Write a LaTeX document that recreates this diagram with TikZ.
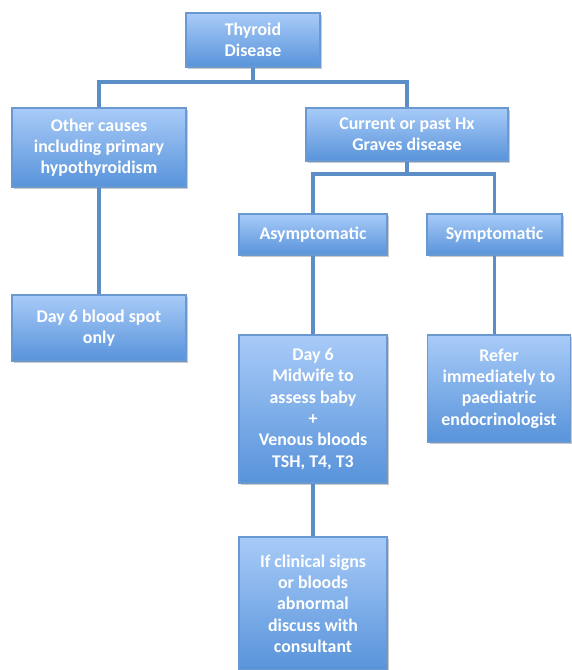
\documentclass[tikz,border=0pt]{standalone}
\usepackage{fontspec}
\setmainfont{Carlito}
\usepackage{xcolor}
\usepackage{tikz}
\usetikzlibrary{shadows, calc}
\definecolor{boxtop}{HTML}{A8CBF8}
\definecolor{boxbot}{HTML}{5893DA}
\definecolor{boxline}{HTML}{6A98D0}
\definecolor{linkcol}{HTML}{5B8EC6}
\tikzset{
	flowbox/.style={draw=boxline, line width=1pt, top color=boxtop, bottom color=boxbot, text=white,
		align=center, inner sep=2pt, font=\fontsize{13.4}{16}\selectfont\bfseries,
		drop shadow={shadow xshift=1.5pt, shadow yshift=-1.5pt, opacity=0.35, fill=black!60}},
	link/.style={draw=linkcol, line width=2.4pt},
}

\begin{document}
\begin{tikzpicture}[x=0.75pt, y=-0.75pt]
	\useasboundingbox (0,0) rectangle (571,670);

	% Top level
	\node[flowbox, minimum width=100.5pt, minimum height=40.5pt] (thyroid) at (253,40) {Thyroid\\Disease};

	% Second level
	\node[flowbox, minimum width=130.5pt, minimum height=59.25pt] (other) at (99,147.5) {Other causes\\including primary\\hypothyroidism};
	\node[flowbox, minimum width=151.5pt, minimum height=39.75pt] (graves) at (407,134.5) {Current or past Hx\\Graves disease};

	% Third level
	\node[flowbox, minimum width=111pt, minimum height=30.75pt] (asympt) at (313,234.5) {Asymptomatic};
	\node[flowbox, minimum width=101.25pt, minimum height=30.75pt] (sympt) at (494.5,234.5) {Symptomatic};

	% Actions
	\node[flowbox, minimum width=130.5pt, minimum height=49.5pt] (spot) at (99,328) {Day 6 blood spot\\only};
	\node[flowbox, minimum width=111pt, minimum height=111pt] (midwife) at (313,409) {Day 6\\Midwife to\\assess baby\\+\\Venous bloods\\TSH, T4, T3};
	\node[flowbox, minimum width=107.25pt, minimum height=80.25pt] (refer) at (499,388.5) {Refer\\immediately to\\paediatric\\endocrinologist};
	\node[flowbox, minimum width=111pt, minimum height=99.75pt] (consult) at (313,603.5) {If clinical signs\\or bloods\\abnormal\\discuss with\\consultant};

	% Connectors
	\coordinate (bus1) at (253,82);
	\coordinate (bus2) at (407,174);
	\draw[link] (thyroid.south) -- (bus1) -| (other.north);
	\draw[link] (bus1) -| (graves.north);
	\draw[link] (graves.south) -- (bus2) -| (asympt.north);
	\draw[link] (bus2) -| (sympt.north);
	\draw[link] (other.south) -- (spot.north);
	\draw[link] (asympt.south) -- (midwife.north);
	\draw[link] (sympt.south) -- (sympt.south |- refer.north);
	\draw[link] (midwife.south) -- (consult.north);
\end{tikzpicture}
\end{document}
